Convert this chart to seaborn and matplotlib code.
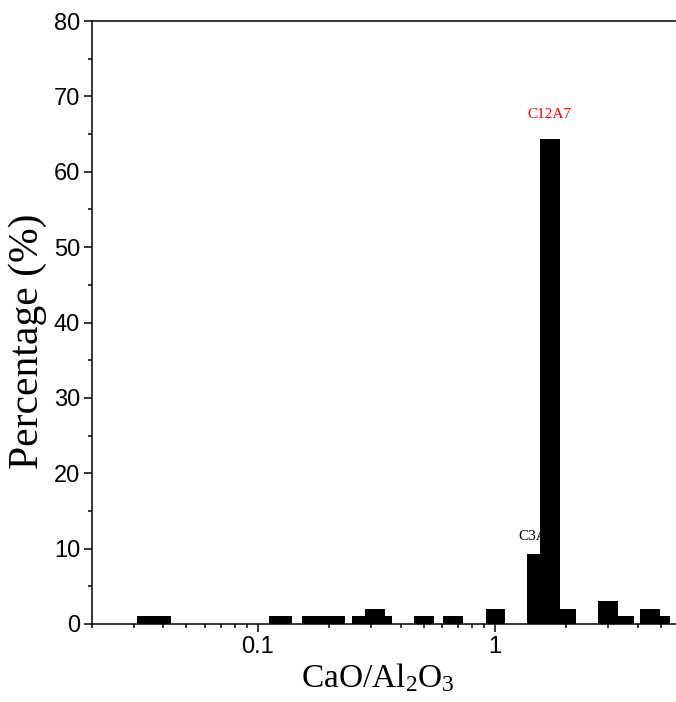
import numpy as np
import pandas as pd
import matplotlib
matplotlib.use("Agg")
import matplotlib.pyplot as plt
import matplotlib.ticker as mticker
import seaborn as sns

# ---- data ----
bin_lo = [0.0309, 0.1113, 0.1539, 0.2493, 0.2840, 0.3424, 0.4551, 0.6034, 0.9138,
          1.370, 1.544, 1.875, 2.720, 3.304, 4.079, 4.953]
bin_hi = [0.0431, 0.1392, 0.2322, 0.2840, 0.3424, 0.3691, 0.5528, 0.7328, 1.106,
          1.544, 1.875, 2.206, 3.304, 3.860, 4.953, 5.497]
percentage = [1, 1, 1, 1, 2, 1, 1, 1, 2, 9.3, 64.4, 2, 3, 1, 2, 1]

x_ticks = [0.1, 1]
x_tick_labels = ["0.1", "1"]
y_ticks = [0, 10, 20, 30, 40, 50, 60, 70, 80]

annot_labels = ["C12A7", "C3A"]
annot_x = [1.70, 1.25]
annot_y = [67.6, 11.6]

df = pd.DataFrame({
    "ratio": np.sqrt(np.array(bin_lo) * np.array(bin_hi)),
    "pct": percentage,
})
edges = sorted(set(bin_lo) | set(bin_hi))

sns.set_theme(style="ticks")
plt.rcParams["font.family"] = ["Liberation Sans", "DejaVu Sans"]
plt.rcParams["mathtext.default"] = "regular"

fig = plt.figure(figsize=(6.76, 7.02), dpi=100)
ax = fig.add_axes([92 / 676, 1 - 624 / 702, 1 - 92 / 676, (624 - 21) / 702])

sns.histplot(data=df, x="ratio", weights="pct", bins=list(edges), stat="count",
             color="black", alpha=1, linewidth=0, element="bars", ax=ax, zorder=3)

ax.set_xscale("log")
ax.set_xlim(0.02, 5.8)
ax.set_ylim(0, 80)

ax.set_xticks(x_ticks)
ax.set_xticklabels(x_tick_labels)
ax.xaxis.set_minor_locator(mticker.LogLocator(base=10, subs=np.arange(2, 10)))
ax.xaxis.set_minor_formatter(mticker.NullFormatter())
ax.set_yticks(y_ticks)
ax.yaxis.set_minor_locator(mticker.MultipleLocator(5))

ax.tick_params(axis="both", which="major", direction="out", length=5.5, width=1.1,
               labelsize=17, color="black", labelcolor="black", pad=3)
ax.tick_params(axis="both", which="minor", direction="out", length=3, width=1.1,
               color="black")
ax.tick_params(top=False, right=False, which="both")

for side in ["left", "bottom", "top"]:
    ax.spines[side].set_linewidth(1.1)
    ax.spines[side].set_color("black")
ax.spines["right"].set_visible(False)

ax.set_xlabel("CaO/Al$_2$O$_3$", fontsize=24, family=["Liberation Serif"],
              color="black")
ax.set_ylabel("Percentage (%)", fontsize=30, family=["Liberation Serif"],
              color="black")
ax.xaxis.set_label_coords(0.49, -0.062)
ax.yaxis.set_label_coords(-0.077, 0.469)

colors = ["red", "black"]
has = ["center", "left"]
for lab, xx, yy, c, ha in zip(annot_labels, annot_x, annot_y, colors, has):
    ax.text(xx, yy, lab, color=c, fontsize=11, family=["Liberation Serif"],
            ha=ha, va="center", zorder=1)

fig.savefig("out.png", dpi=100)
